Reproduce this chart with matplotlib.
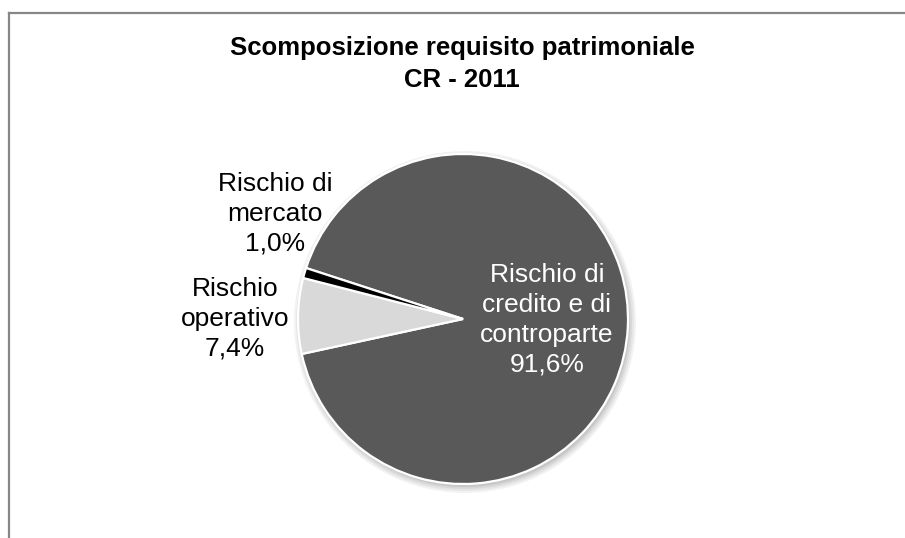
import matplotlib.pyplot as plt
from matplotlib.patches import Circle
from matplotlib.lines import Line2D

plt.rcParams['font.family'] = ['Liberation Sans', 'DejaVu Sans']

# capital requirement breakdown, CR 2011 (percent)
categories = ["Rischio di\ncredito e di\ncontroparte", "Rischio\noperativo", "Rischio di\nmercato"]
shares = [91.6, 7.4, 1.0]
colors = ["#595959", "#d9d9d9", "#000000"]

W, H = 905, 538
cx, cy, r = 463, 319, 165  # pie centre / radius in pixels

fig = plt.figure(figsize=(W / 100, H / 100), dpi=100)
ax = fig.add_axes([0, 0, 1, 1])

def px(x, y):
    return (x - cx) / r, (cy - y) / r

# soft drop shadow under the pie
for i, a in enumerate([0.05, 0.05, 0.06, 0.07]):
    ax.add_patch(Circle((0.012, -0.018), 1.0 + 0.012 * (3 - i), color="black",
                        alpha=a, lw=0, zorder=0))

wedges, _ = ax.pie(shares, colors=colors, startangle=162, counterclock=False,
                   radius=1.0, center=(0, 0), frame=True,
                   wedgeprops=dict(edgecolor="white", linewidth=1.6))
ax.set_xlim(-cx / r, (W - cx) / r)
ax.set_ylim((cy - H) / r, cy / r)
ax.set_aspect("auto")
ax.axis("off")

def pct(v):
    return f"{v:.1f}".replace(".", ",") + "%"

label_pos = [(547, 320), (235, 319), (275, 214)]
label_col = ["white", "black", "black"]
for cat, v, (x, y), c in zip(categories, shares, label_pos, label_col):
    ax.text(*px(x, y), f"{cat}\n{pct(v)}", ha="center", va="center",
            fontsize=19, color=c, linespacing=1.3, zorder=5)

ax.text(*px(462, 64), "Scomposizione requisito patrimoniale\nCR - 2011",
        ha="center", va="center", fontsize=18.5, fontweight="bold",
        linespacing=1.4)

# chart area border (top and left edges visible)
fig.add_artist(Line2D([8.5 / W, 1.0], [1 - 12.5 / H, 1 - 12.5 / H],
                      color="#878787", lw=1.6, transform=fig.transFigure))
fig.add_artist(Line2D([8.5 / W, 8.5 / W], [0, 1 - 12.5 / H],
                      color="#878787", lw=1.6, transform=fig.transFigure))

fig.savefig("out.png", dpi=100)
